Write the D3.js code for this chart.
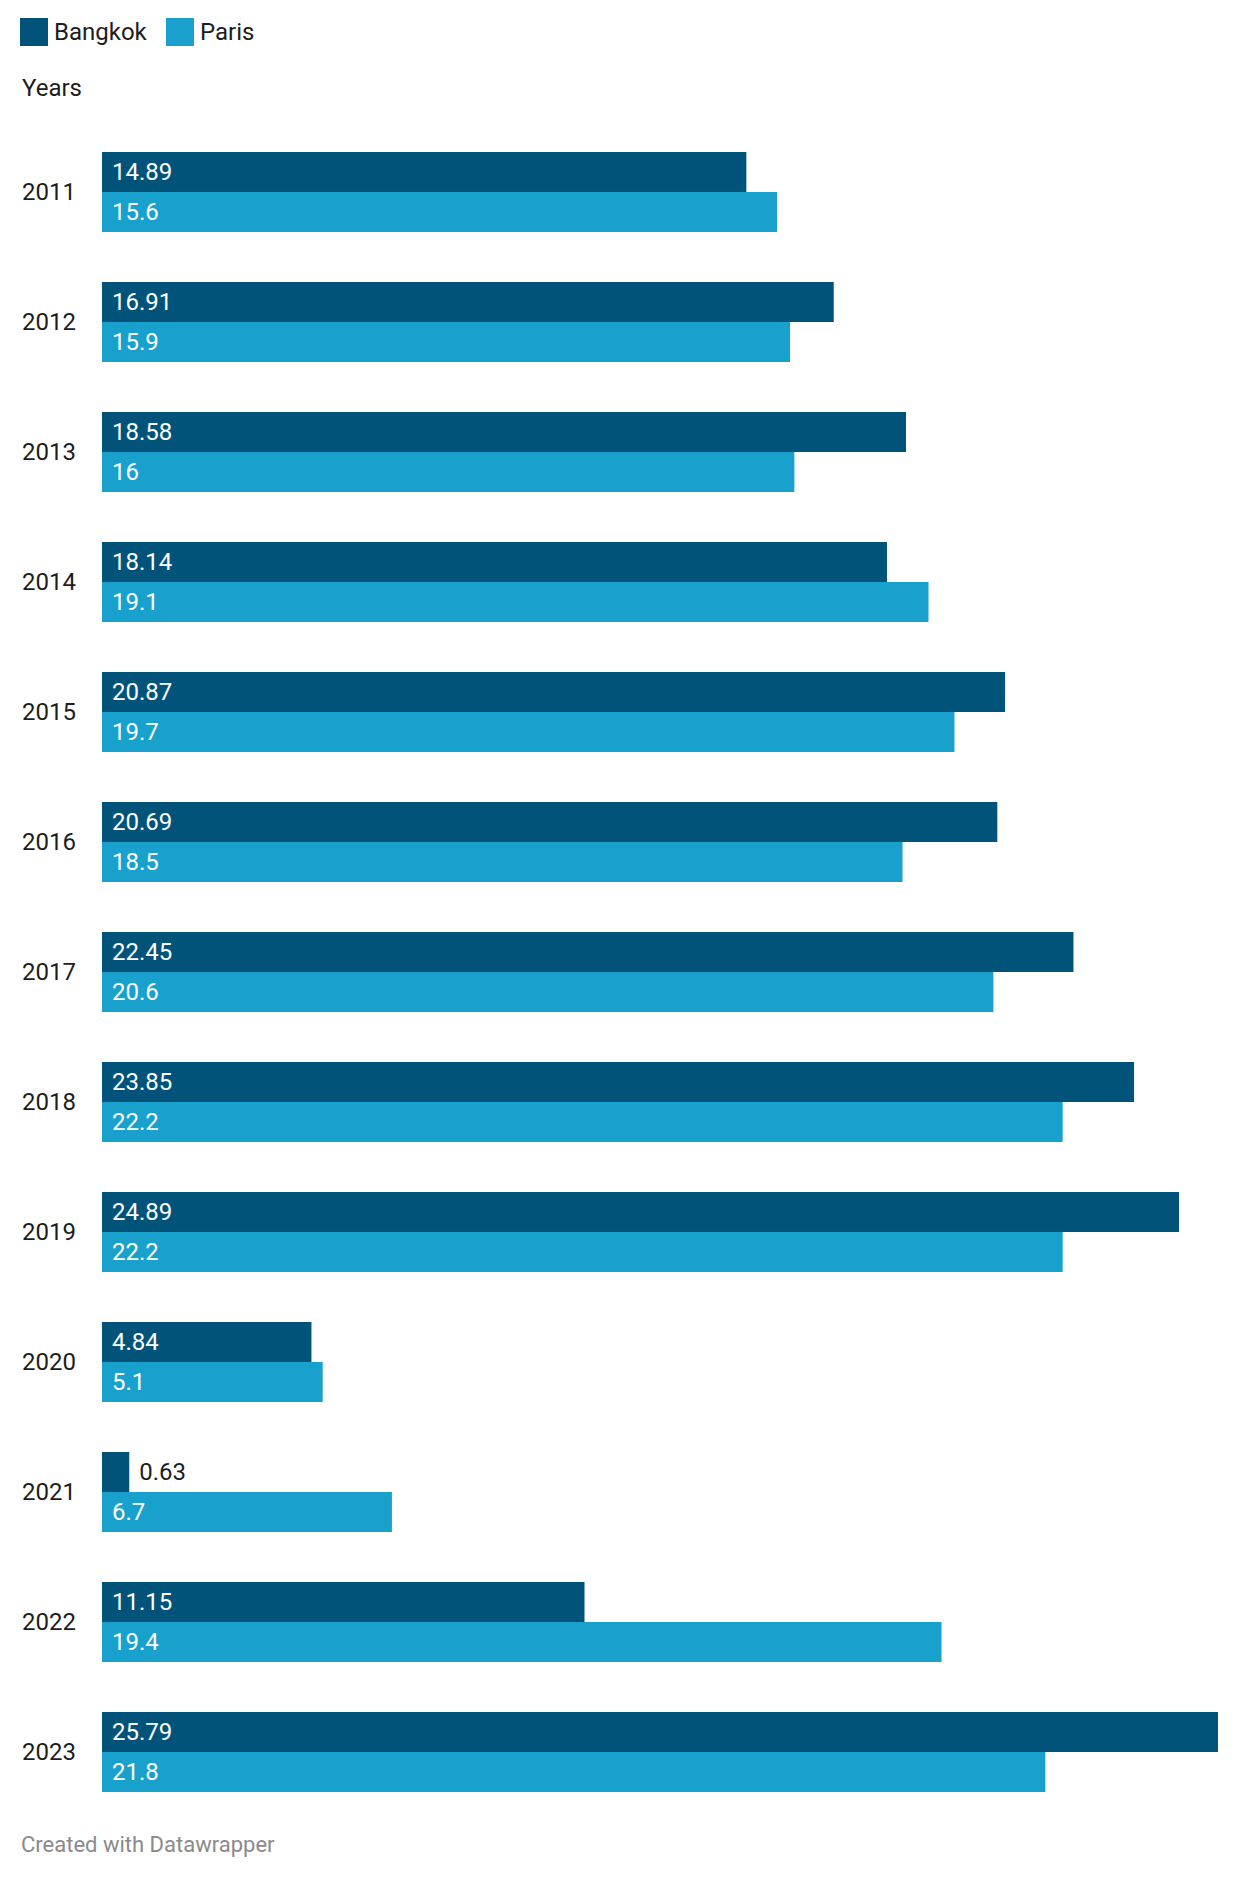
<!DOCTYPE html>
<html>
<head>
<meta charset="utf-8">
<script src="https://cdn.jsdelivr.net/npm/d3@7"></script>
<style>
  body { margin: 0; background: #fff; }
  text { font-family: Roboto, "Noto Sans", sans-serif; }
</style>
</head>
<body>
<div id="chart"></div>
<script>
var years = ["2011","2012","2013","2014","2015","2016","2017","2018","2019","2020","2021","2022","2023"];
var seriesNames = ["Bangkok", "Paris"];
var bangkok = [14.89, 16.91, 18.58, 18.14, 20.87, 20.69, 22.45, 23.85, 24.89, 4.84, 0.63, 11.15, 25.79];
var paris = [15.6, 15.9, 16, 19.1, 19.7, 18.5, 20.6, 22.2, 22.2, 5.1, 6.7, 19.4, 21.8];
var colors = ["#01537a", "#18a1cd"];

var width = 1240, height = 1878;
var fontSize = 24;

var svg = d3.select("#chart").append("svg")
    .attr("width", width)
    .attr("height", height);

// legend
var legend = svg.append("g").attr("class", "legend");
var legX = [20, 166];
seriesNames.forEach(function(name, i) {
    legend.append("rect")
        .attr("x", legX[i]).attr("y", 18)
        .attr("width", 28).attr("height", 28)
        .attr("fill", colors[i]);
    legend.append("text")
        .attr("x", legX[i] + 34).attr("y", 32)
        .attr("dy", "0.35em")
        .attr("font-size", 24)
        .attr("fill", "#1d1d1d")
        .text(name);
});

svg.append("text")
    .attr("x", 22).attr("y", 96)
    .attr("font-size", fontSize)
    .attr("fill", "#1d1d1d")
    .text("Years");

// scales
var y = d3.scaleBand()
    .domain(years)
    .range([152, 1792])
    .paddingInner(50 / 130)
    .paddingOuter(0);

var ySub = d3.scaleBand()
    .domain(seriesNames)
    .range([0, y.bandwidth()]);

var x = d3.scaleLinear()
    .domain([0, d3.max(bangkok.concat(paris))])
    .range([102, 1218]);

var rows = years.map(function(yr, i) {
    return {year: yr, values: [bangkok[i], paris[i]]};
});

var row = svg.selectAll("g.row")
    .data(rows)
    .enter().append("g")
    .attr("class", "row")
    .attr("transform", function(d) { return "translate(0," + y(d.year) + ")"; });

row.append("text")
    .attr("x", 22)
    .attr("y", y.bandwidth() / 2)
    .attr("dy", "0.35em")
    .attr("font-size", fontSize)
    .attr("fill", "#1d1d1d")
    .text(function(d) { return d.year; });

row.each(function(d) {
    var g = d3.select(this);
    d.values.forEach(function(v, j) {
        var name = seriesNames[j];
        var w = x(v) - x(0);
        g.append("rect")
            .attr("x", x(0))
            .attr("y", ySub(name))
            .attr("width", w)
            .attr("height", ySub.bandwidth())
            .attr("fill", colors[j]);

        var label = g.append("text")
            .attr("y", ySub(name) + ySub.bandwidth() / 2)
            .attr("dy", "0.35em")
            .attr("font-size", fontSize)
            .text(String(v));
        var tw = label.node().getComputedTextLength();
        if (tw + 20 > w) {
            // too narrow: put the label after the bar
            label.attr("x", x(v) + 10).attr("fill", "#1d1d1d");
        } else {
            label.attr("x", x(0) + 10).attr("fill", "#ffffff");
        }
    });
});

svg.append("text")
    .attr("x", 21).attr("y", 1852)
    .attr("font-size", 22)
    .attr("fill", "#8a8a8a")
    .text("Created with Datawrapper");
</script>
</body>
</html>
